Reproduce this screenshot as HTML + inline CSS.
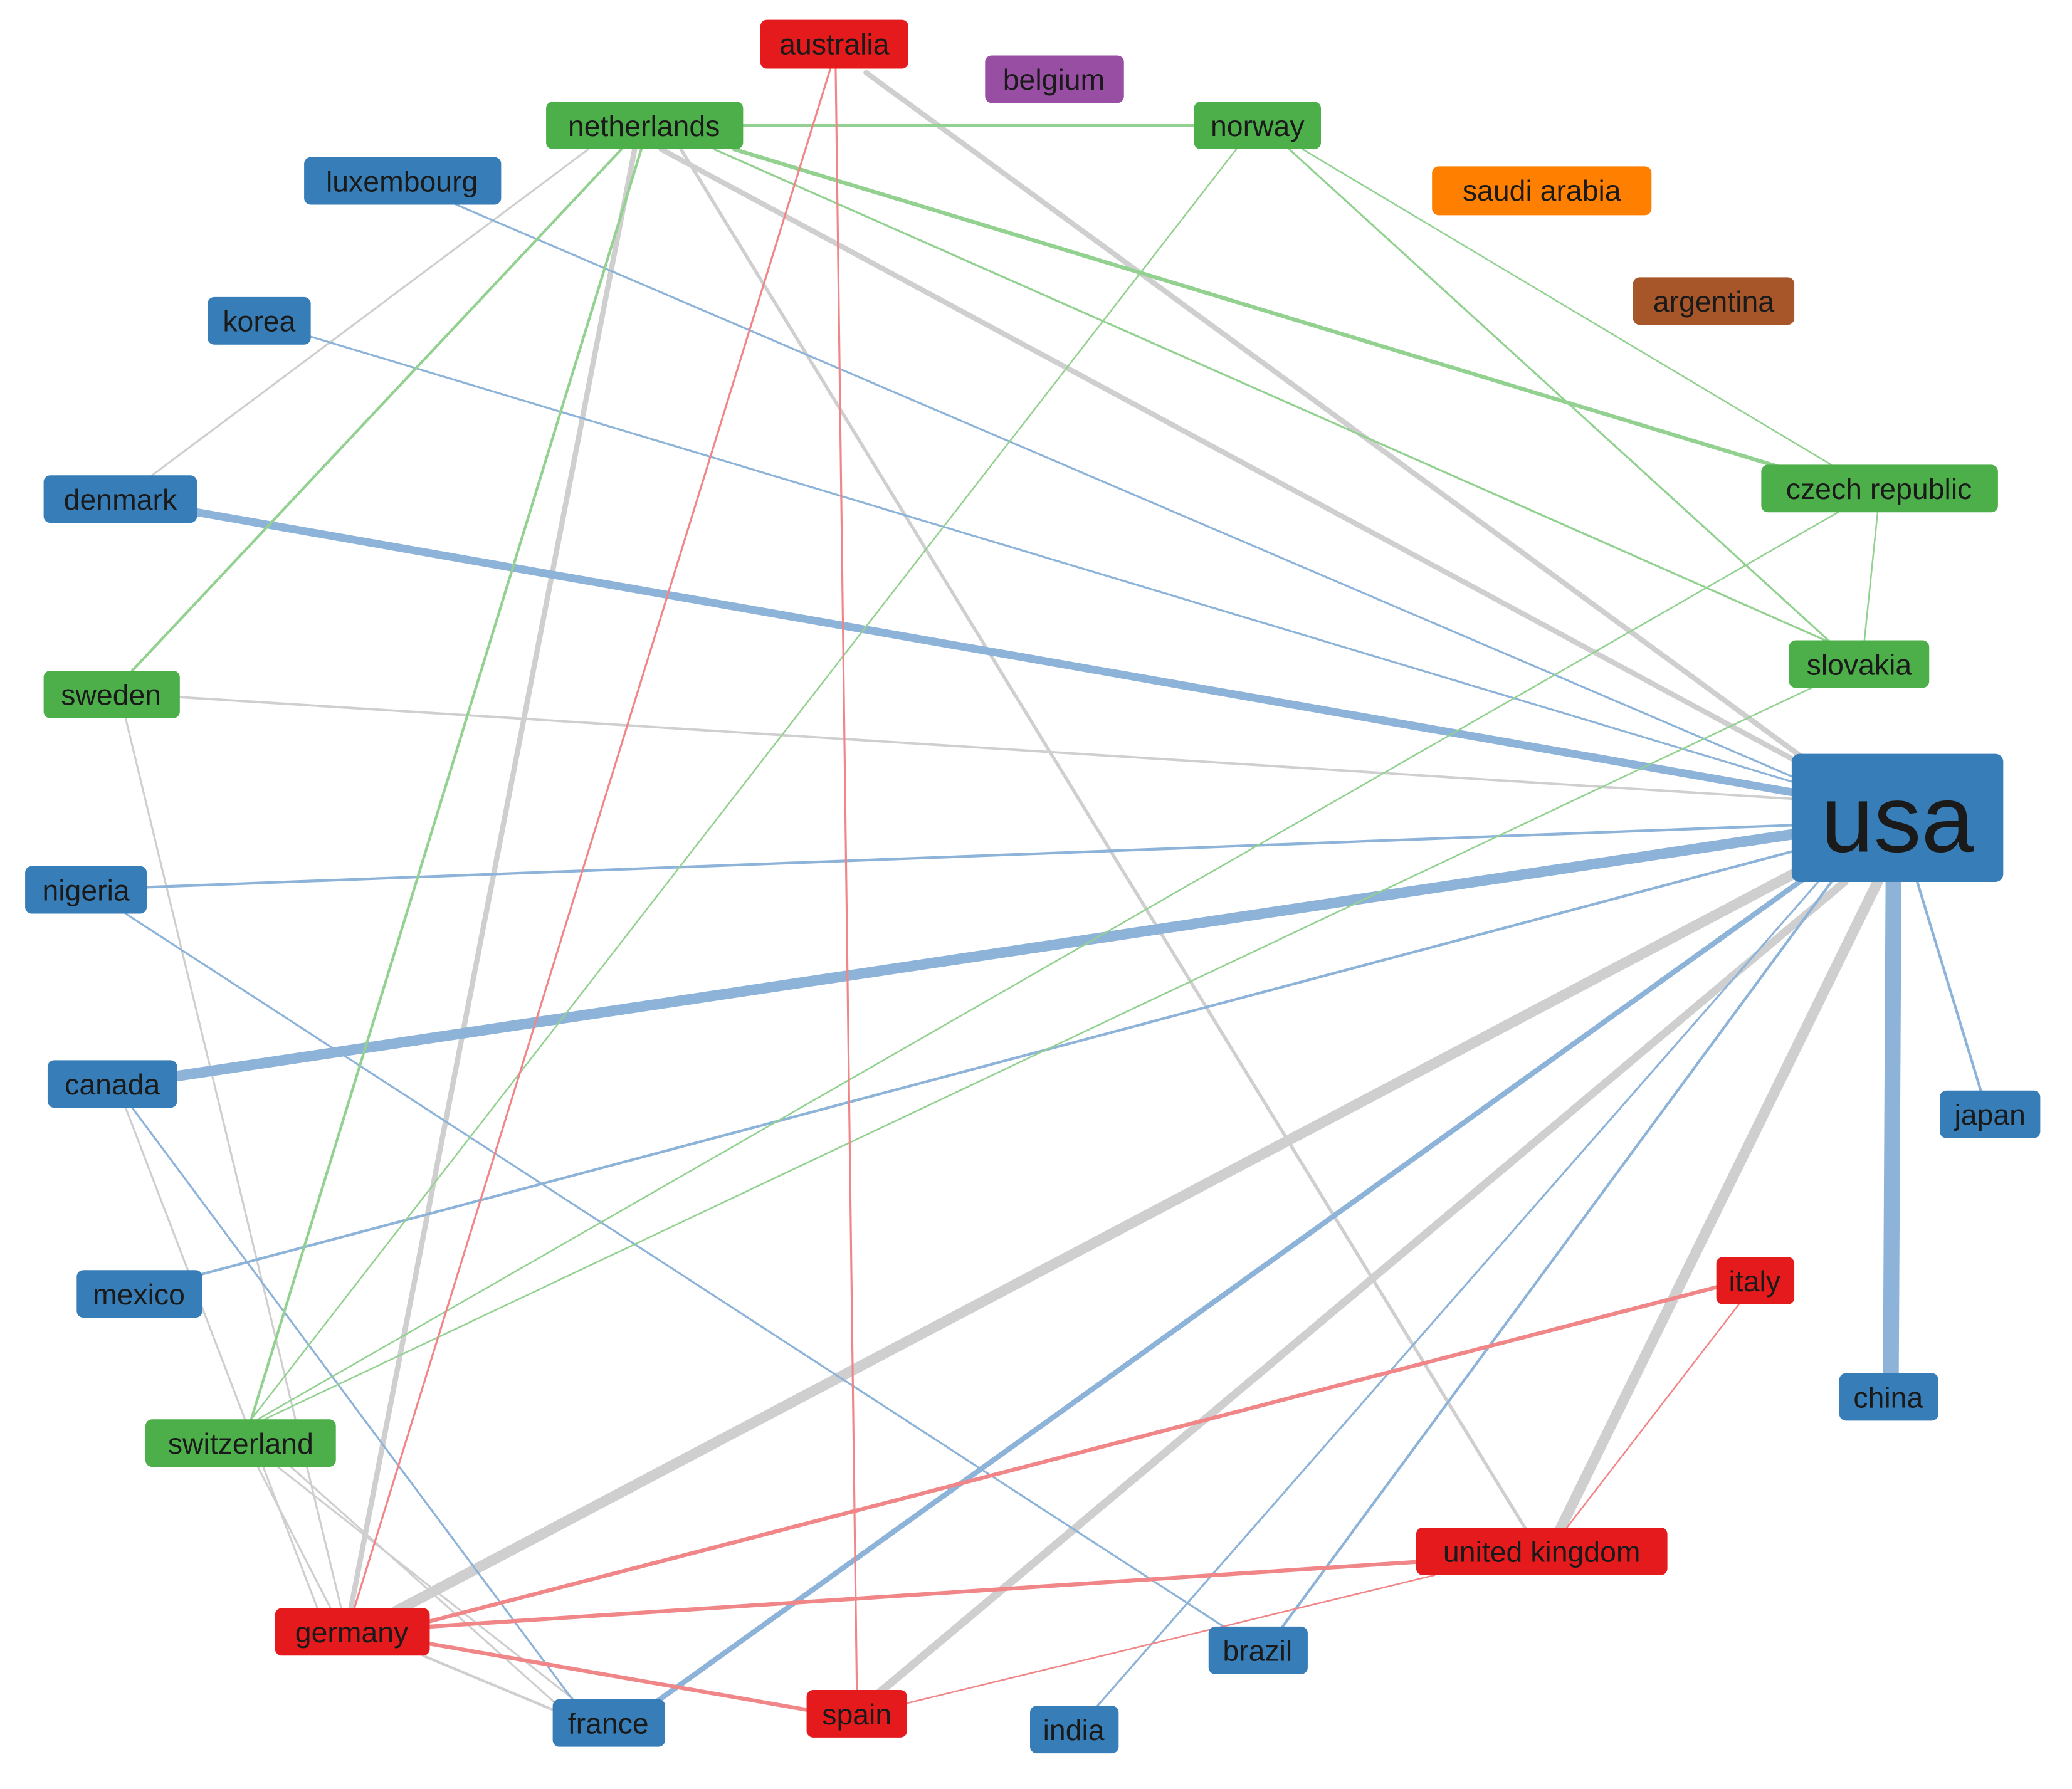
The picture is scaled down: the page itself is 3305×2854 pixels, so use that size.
<!DOCTYPE html>
<html><head><meta charset="utf-8"><style>
html,body{margin:0;padding:0;background:#fff;}
svg{display:block;}
text{font-family:"Liberation Sans",sans-serif;fill:#1a1a1a;}
</style></head><body>
<svg width="3305" height="2854" viewBox="0 0 1567 1355" preserveAspectRatio="none" xmlns="http://www.w3.org/2000/svg">
<g fill="none" stroke-linecap="round">
<g stroke="#cfcfcf">
<line x1="655" y1="55" x2="1365" y2="575" stroke-width="4"/>
<line x1="500" y1="113" x2="1365" y2="580" stroke-width="4"/>
<line x1="515" y1="113" x2="1155" y2="1160" stroke-width="2.5"/>
<line x1="480" y1="113" x2="265" y2="1220" stroke-width="4"/>
<line x1="445" y1="113" x2="115" y2="360" stroke-width="1.5"/>
<line x1="136" y1="528" x2="1355" y2="605" stroke-width="1.8"/>
<line x1="95" y1="544" x2="258" y2="1218" stroke-width="1.5"/>
<line x1="95" y1="839" x2="240" y2="1218" stroke-width="1.5"/>
<line x1="195" y1="1111" x2="250" y2="1218" stroke-width="1.5"/>
<line x1="210" y1="1111" x2="440" y2="1292" stroke-width="1.5"/>
<line x1="220" y1="1111" x2="420" y2="1290" stroke-width="1.5"/>
<line x1="320" y1="1254" x2="430" y2="1300" stroke-width="2"/>
<line x1="1360" y1="660" x2="300" y2="1220" stroke-width="8"/>
<line x1="1395" y1="668" x2="665" y2="1282" stroke-width="6"/>
<line x1="1420" y1="668" x2="1180" y2="1158" stroke-width="8"/>
</g>
<g stroke="#8db3d9">
<line x1="149" y1="388" x2="1355" y2="600" stroke-width="6"/>
<line x1="134" y1="815" x2="1355" y2="632" stroke-width="8"/>
<line x1="111" y1="672" x2="1355" y2="625" stroke-width="2"/>
<line x1="95" y1="692" x2="930" y2="1235" stroke-width="1.5"/>
<line x1="345" y1="155" x2="1355" y2="588" stroke-width="1.5"/>
<line x1="235" y1="255" x2="1355" y2="592" stroke-width="1.5"/>
<line x1="153" y1="965" x2="1355" y2="645" stroke-width="2"/>
<line x1="100" y1="839" x2="435" y2="1290" stroke-width="1.5"/>
<line x1="1365" y1="665" x2="495" y2="1290" stroke-width="4"/>
<line x1="1375" y1="668" x2="830" y2="1292" stroke-width="1.5"/>
<line x1="1385" y1="668" x2="970" y2="1232" stroke-width="2"/>
<line x1="1432" y1="668" x2="1430" y2="1040" stroke-width="12" stroke-linecap="butt"/>
<line x1="1450" y1="668" x2="1498" y2="826" stroke-width="2"/>
</g>
<g stroke="#93d191">
<line x1="562" y1="95" x2="903" y2="95" stroke-width="2"/>
<line x1="555" y1="113" x2="1350" y2="355" stroke-width="3"/>
<line x1="540" y1="113" x2="1385" y2="487" stroke-width="1.5"/>
<line x1="470" y1="113" x2="100" y2="508" stroke-width="2"/>
<line x1="485" y1="113" x2="190" y2="1075" stroke-width="2"/>
<line x1="935" y1="113" x2="190" y2="1075" stroke-width="1.2"/>
<line x1="985" y1="113" x2="1385" y2="352" stroke-width="1.2"/>
<line x1="975" y1="113" x2="1385" y2="487" stroke-width="1.5"/>
<line x1="1420" y1="388" x2="1410" y2="485" stroke-width="1.2"/>
<line x1="1390" y1="388" x2="195" y2="1075" stroke-width="1.2"/>
<line x1="1370" y1="521" x2="200" y2="1075" stroke-width="1.2"/>
</g>
<g stroke="#f08688">
<line x1="628" y1="52" x2="268" y2="1218" stroke-width="1.5"/>
<line x1="632" y1="52" x2="648" y2="1280" stroke-width="1.5"/>
<line x1="1298" y1="975" x2="325" y2="1228" stroke-width="3"/>
<line x1="1315" y1="988" x2="1185" y2="1157" stroke-width="1.2"/>
<line x1="1071" y1="1183" x2="325" y2="1232" stroke-width="3"/>
<line x1="1085" y1="1193" x2="686" y2="1290" stroke-width="1.2"/>
<line x1="325" y1="1245" x2="610" y2="1295" stroke-width="3"/>
</g>
</g>
<g font-size="22" text-anchor="middle">
<rect x="575" y="15" width="112" height="37" rx="5" fill="#e41a1c"/><text x="631" y="41">australia</text>
<rect x="745" y="42" width="105" height="36" rx="5" fill="#984ea3"/><text x="797" y="68">belgium</text>
<rect x="413" y="77" width="149" height="36" rx="5" fill="#4daf4a"/><text x="487" y="103">netherlands</text>
<rect x="903" y="77" width="96" height="36" rx="5" fill="#4daf4a"/><text x="951" y="103">norway</text>
<rect x="230" y="119" width="149" height="36" rx="5" fill="#377eb8"/><text x="304" y="145">luxembourg</text>
<rect x="1083" y="126" width="166" height="37" rx="5" fill="#ff7f00"/><text x="1166" y="152">saudi arabia</text>
<rect x="1235" y="210" width="122" height="36" rx="5" fill="#a65628"/><text x="1296" y="236">argentina</text>
<rect x="157" y="225" width="78" height="36" rx="5" fill="#377eb8"/><text x="196" y="251">korea</text>
<rect x="1332" y="352" width="179" height="36" rx="5" fill="#4daf4a"/><text x="1421" y="378">czech republic</text>
<rect x="33" y="360" width="116" height="36" rx="5" fill="#377eb8"/><text x="91" y="386">denmark</text>
<rect x="1353" y="485" width="106" height="36" rx="5" fill="#4daf4a"/><text x="1406" y="511">slovakia</text>
<rect x="33" y="508" width="103" height="36" rx="5" fill="#4daf4a"/><text x="84" y="534">sweden</text>
<rect x="1355" y="571" width="160" height="97" rx="6" fill="#377eb8"/><text x="1435" y="645" font-size="72">usa</text>
<rect x="19" y="656" width="92" height="36" rx="5" fill="#377eb8"/><text x="65" y="682">nigeria</text>
<rect x="36" y="803" width="98" height="36" rx="5" fill="#377eb8"/><text x="85" y="829">canada</text>
<rect x="1467" y="826" width="76" height="36" rx="5" fill="#377eb8"/><text x="1505" y="852">japan</text>
<rect x="1298" y="952" width="59" height="36" rx="5" fill="#e41a1c"/><text x="1327" y="978">italy</text>
<rect x="58" y="962" width="95" height="36" rx="5" fill="#377eb8"/><text x="105" y="988">mexico</text>
<rect x="1391" y="1040" width="75" height="36" rx="5" fill="#377eb8"/><text x="1428" y="1066">china</text>
<rect x="110" y="1075" width="144" height="36" rx="5" fill="#4daf4a"/><text x="182" y="1101">switzerland</text>
<rect x="1071" y="1157" width="190" height="36" rx="5" fill="#e41a1c"/><text x="1166" y="1183">united kingdom</text>
<rect x="208" y="1218" width="117" height="36" rx="5" fill="#e41a1c"/><text x="266" y="1244">germany</text>
<rect x="914" y="1232" width="75" height="36" rx="5" fill="#377eb8"/><text x="951" y="1258">brazil</text>
<rect x="610" y="1280" width="76" height="36" rx="5" fill="#e41a1c"/><text x="648" y="1306">spain</text>
<rect x="418" y="1287" width="85" height="36" rx="5" fill="#377eb8"/><text x="460" y="1313">france</text>
<rect x="779" y="1292" width="67" height="36" rx="5" fill="#377eb8"/><text x="812" y="1318">india</text>
</g>
</svg>
</body></html>
